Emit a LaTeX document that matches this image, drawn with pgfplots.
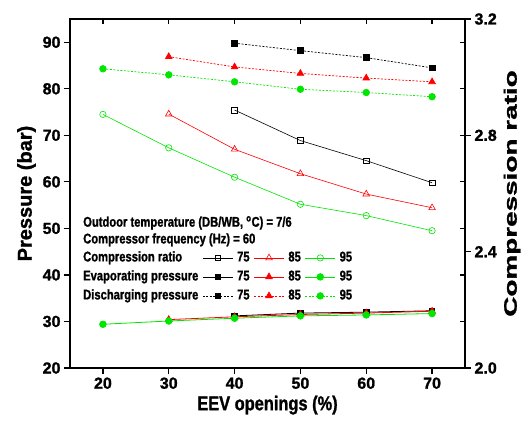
\documentclass[border=0pt]{standalone}
\usepackage{pgfplots}
\pgfplotsset{compat=1.18}
\usepackage{fontspec}
\usepackage{graphicx}
\setmainfont{Liberation Sans}
\newfontfamily\bsans{Liberation Sans Bold}[FakeBold=1.2]
\newfontfamily\bnarrow{Liberation Sans Bold}[FakeStretch=0.8, FakeBold=1.2]
\newfontfamily\bxlab{Liberation Sans Bold}[FakeStretch=0.82, FakeBold=1.2]
\definecolor{mygreen}{RGB}{0,230,0}
\pgfplotsset{
  cr75/.style={black, line width=0.6pt, mark=square, mark size=2.8pt, mark options={solid, fill=white}},
  cr85/.style={red, line width=0.6pt, mark=triangle, mark size=3.8pt, mark options={solid, fill=white}},
  cr95/.style={mygreen, line width=0.6pt, mark=o, mark size=3.2pt, mark options={solid, fill=white}},
  ev75/.style={black, line width=0.8pt, mark=square*, mark size=2.8pt, mark options={solid}},
  ev85/.style={red, line width=0.8pt, mark=triangle*, mark size=3.8pt, mark options={solid}},
  ev95/.style={mygreen, line width=0.8pt, mark=*, mark size=3.3pt, mark options={solid}},
  dc75/.style={black, line width=0.7pt, dash pattern=on 2pt off 1.5pt, mark=square*, mark size=2.8pt, mark options={solid}},
  dc85/.style={red, line width=0.7pt, dash pattern=on 2pt off 1.5pt, mark=triangle*, mark size=3.8pt, mark options={solid}},
  dc95/.style={mygreen, line width=0.7pt, dash pattern=on 2pt off 1.5pt, mark=*, mark size=3.3pt, mark options={solid}},
  common/.style={
    scale only axis, width=395pt, height=349pt,
    xmin=15, xmax=75,
    axis line style={line width=1.2pt},
    every tick/.style={line width=1.2pt, black},
    /pgf/number format/assume math mode=true,
    tick label style={font=\bsans\fontsize{16}{16}\selectfont},
  }
}
\begin{document}
\begin{tikzpicture}
\path[use as bounding box] (-70pt,-58pt) rectangle (458pt,368pt);
% left axis: pressures
\begin{axis}[common,
  ymin=20, ymax=95,
  xtick={20,30,...,70}, ytick={20,30,...,90},
  xtick pos=left, ytick pos=left,
  tick align=outside, major tick length=6pt,
  xlabel={\bxlab\fontsize{20}{20}\selectfont EEV openings (\%)},
  ylabel={\bsans\fontsize{20}{20}\selectfont Pressure (bar)},
]
\addplot[ev75] coordinates {(40,31.2) (50,31.8) (60,32.0) (70,32.3)};
\addplot[ev85] coordinates {(30,30.4) (40,31.0) (50,31.5) (60,31.8) (70,32.2)};
\addplot[ev95] coordinates {(20,29.4) (30,30.1) (40,30.7) (50,31.2) (60,31.4) (70,31.7)};
\addplot[dc75] coordinates {(40,89.8) (50,88.2) (60,86.7) (70,84.5)};
\addplot[dc85] coordinates {(30,86.9) (40,84.7) (50,83.3) (60,82.3) (70,81.5)};
\addplot[dc95] coordinates {(20,84.3) (30,83.0) (40,81.5) (50,79.9) (60,79.2) (70,78.3)};
\end{axis}
% mirror ticks (inward) on top and right
\begin{axis}[common,
  ymin=20, ymax=95,
  xtick={20,30,...,70}, ytick={20,30,...,90},
  xtick pos=right, ytick pos=right,
  tick align=inside, major tick length=5pt,
  xticklabels={}, yticklabels={},
]
\end{axis}
% right axis: compression ratio
\begin{axis}[common,
  ymin=2.0, ymax=3.2,
  axis x line=none, axis y line*=right,
  ytick={2.0,2.4,2.8,3.2},
  yticklabel style={/pgf/number format/.cd, fixed, fixed zerofill, precision=1},
  tick align=outside, major tick length=6pt,
  ylabel={\bsans\fontsize{18}{18}\selectfont\scalebox{1.55}[1]{Compression ratio}},
  legend columns=4,
  legend cell align=left,
  legend image code/.code={\draw[mark repeat=2, mark phase=2, #1] plot coordinates {(0pt,0pt) (15pt,0pt) (30pt,0pt)};},
  legend style={draw=none, fill=none, inner sep=0pt, at={(0.0228,0.3375)}, anchor=north west,
    font=\bnarrow\fontsize{14}{14}\selectfont,
    row sep=4pt,
    nodes={inner sep=1pt, text height=10pt, text depth=3pt},
    /tikz/every odd column/.append style={column sep=3pt},
    /tikz/every even column/.append style={column sep=3pt},
    /tikz/column 2/.append style={column sep=0pt}},
]
\addlegendimage{empty legend}\addlegendentry{Compression ratio}
\addplot[cr75] coordinates {(40,2.887) (50,2.782) (60,2.713) (70,2.637)};
\addlegendentry{75}
\addplot[cr85] coordinates {(30,2.873) (40,2.752) (50,2.668) (60,2.598) (70,2.551)};
\addlegendentry{85}
\addplot[cr95] coordinates {(20,2.872) (30,2.757) (40,2.656) (50,2.563) (60,2.524) (70,2.472)};
\addlegendentry{95}
\addlegendimage{empty legend}\addlegendentry{Evaporating pressure}
\addlegendimage{ev75}\addlegendentry{75}
\addlegendimage{ev85}\addlegendentry{85}
\addlegendimage{ev95}\addlegendentry{95}
\addlegendimage{empty legend}\addlegendentry{Discharging pressure}
\addlegendimage{dc75}\addlegendentry{75}
\addlegendimage{dc85}\addlegendentry{85}
\addlegendimage{dc95}\addlegendentry{95}
\node[anchor=base west, inner sep=0pt, font=\bnarrow\fontsize{14}{14}\selectfont] at (rel axis cs:0.033,0.405) {Outdoor temperature (DB/WB, \textsuperscript{o}C) = 7/6};
\node[anchor=base west, inner sep=0pt, font=\bnarrow\fontsize{14}{14}\selectfont] at (rel axis cs:0.033,0.357) {Compressor frequency (Hz) = 60};
\end{axis}
\end{tikzpicture}
\end{document}
